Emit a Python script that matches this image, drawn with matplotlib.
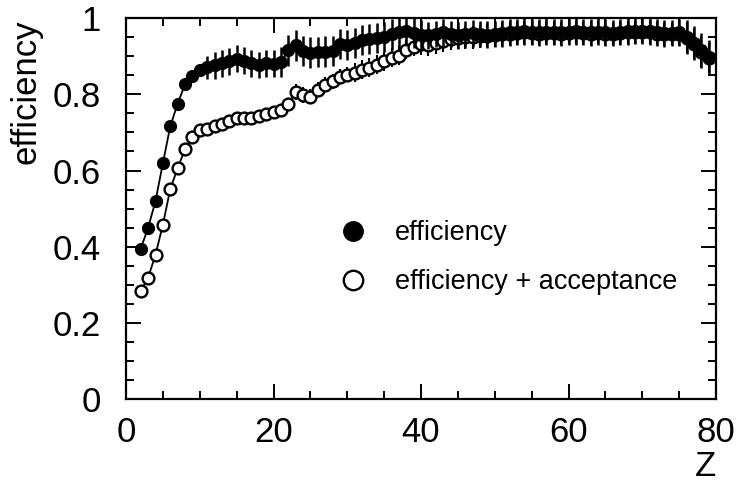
import matplotlib
matplotlib.use("Agg")
import matplotlib.pyplot as plt
from matplotlib.lines import Line2D
from matplotlib.ticker import MultipleLocator, FuncFormatter
import numpy as np

plt.rcParams['font.family'] = ['Liberation Sans', 'DejaVu Sans']

# ---- data ----
z = list(range(2, 80))

eff = [0.395, 0.450, 0.520, 0.619, 0.716, 0.775, 0.826, 0.849, 0.864, 0.871,
       0.876, 0.881, 0.886, 0.893, 0.888, 0.881, 0.877, 0.881, 0.880, 0.884,
       0.915, 0.928, 0.913, 0.909, 0.911, 0.912, 0.914, 0.932, 0.929, 0.934,
       0.942, 0.945, 0.948, 0.950, 0.957, 0.962, 0.966, 0.961, 0.956, 0.955,
       0.958, 0.962, 0.958, 0.955, 0.957, 0.960, 0.958, 0.956, 0.958, 0.960,
       0.962, 0.963, 0.965, 0.963, 0.962, 0.964, 0.963, 0.962, 0.964, 0.965,
       0.963, 0.962, 0.964, 0.962, 0.961, 0.963, 0.965, 0.966, 0.967, 0.965,
       0.962, 0.960, 0.961, 0.962, 0.950, 0.935, 0.915, 0.898]

eff_err = [0.010, 0.010, 0.010, 0.010, 0.010, 0.010, 0.015, 0.015, 0.015, 0.030,
           0.035, 0.035, 0.035, 0.035, 0.035, 0.035, 0.035, 0.035, 0.035, 0.040,
           0.040, 0.040, 0.040, 0.040, 0.040, 0.040, 0.040, 0.040, 0.040, 0.040,
           0.040, 0.040, 0.040, 0.040, 0.040, 0.040, 0.040, 0.040, 0.040, 0.035,
           0.035, 0.035, 0.035, 0.035, 0.035, 0.035, 0.035, 0.035, 0.035, 0.035,
           0.035, 0.035, 0.035, 0.035, 0.035, 0.035, 0.035, 0.035, 0.035, 0.035,
           0.035, 0.035, 0.035, 0.035, 0.035, 0.035, 0.035, 0.035, 0.035, 0.035,
           0.035, 0.035, 0.035, 0.035, 0.045, 0.045, 0.045, 0.045]

eff_acc = [0.284, 0.319, 0.379, 0.458, 0.551, 0.606, 0.656, 0.687, 0.705, 0.709,
           0.716, 0.723, 0.731, 0.738, 0.737, 0.738, 0.744, 0.749, 0.753, 0.760,
           0.775, 0.806, 0.798, 0.794, 0.812, 0.825, 0.834, 0.846, 0.851, 0.857,
           0.864, 0.870, 0.878, 0.887, 0.896, 0.901, 0.917, 0.925, 0.932, 0.930,
           0.935, 0.940, 0.945, 0.948, 0.950, 0.950, 0.952, 0.953, 0.955, 0.957,
           0.959, 0.960, 0.962, 0.960, 0.959, 0.961, 0.960, 0.959, 0.961, 0.962,
           0.960, 0.959, 0.961, 0.959, 0.958, 0.960, 0.962, 0.963, 0.964, 0.962,
           0.959, 0.957, 0.958, 0.959, 0.947, 0.932, 0.912, 0.895]

eff_acc_err = [0.010, 0.010, 0.010, 0.010, 0.010, 0.010, 0.010, 0.010, 0.010, 0.012,
               0.012, 0.012, 0.012, 0.012, 0.012, 0.012, 0.012, 0.012, 0.012, 0.015,
               0.015, 0.020, 0.020, 0.020, 0.020, 0.020, 0.020, 0.020, 0.020, 0.025,
               0.025, 0.025, 0.025, 0.025, 0.025, 0.025, 0.025, 0.025, 0.030, 0.030,
               0.030, 0.030, 0.030, 0.030, 0.030, 0.030, 0.030, 0.030, 0.030, 0.030,
               0.030, 0.030, 0.030, 0.030, 0.030, 0.030, 0.030, 0.030, 0.030, 0.030,
               0.030, 0.030, 0.030, 0.030, 0.030, 0.030, 0.030, 0.030, 0.030, 0.030,
               0.030, 0.030, 0.030, 0.030, 0.040, 0.040, 0.040, 0.040]

labels = ["efficiency", "efficiency + acceptance"]

# ---- figure ----
fig = plt.figure(figsize=(7.38, 4.87), dpi=100)
ax = fig.add_axes([126/738, (487-399.3)/487, 590/738, 381.3/487])

ax.errorbar(z, eff_acc, yerr=eff_acc_err, fmt='o', color='black',
            mfc='white', mec='black', mew=1.7, ms=8.5, elinewidth=1.5,
            capsize=0, zorder=3, linestyle='-', lw=1.3)
ax.errorbar(z, eff, yerr=eff_err, fmt='o', color='black',
            mfc='black', mec='black', ms=8.5, elinewidth=1.8,
            capsize=0, zorder=4, linestyle='-', lw=1.3)

ax.set_xlim(0, 80)
ax.set_ylim(0, 1)

ax.xaxis.set_major_locator(MultipleLocator(20))
ax.xaxis.set_minor_locator(MultipleLocator(5))
ax.yaxis.set_major_locator(MultipleLocator(0.2))
ax.yaxis.set_minor_locator(MultipleLocator(0.05))
ax.yaxis.set_major_formatter(FuncFormatter(lambda v, p: "%g" % round(v, 2)))

ax.tick_params(which='both', direction='in', top=True, right=True,
               width=1.4, colors='black')
ax.tick_params(which='major', length=11, labelsize=25)
ax.tick_params(axis='x', which='major', pad=12)
ax.tick_params(axis='y', which='major', pad=18)
ax.tick_params(which='minor', length=5.5)
for s in ax.spines.values():
    s.set_linewidth(1.6)

ax.set_xlabel('Z', fontsize=25, loc='right', labelpad=1)
ax.set_ylabel('efficiency', fontsize=25)
ax.yaxis.set_label_coords(-0.142, 0.807)

handles = [Line2D([], [], marker='o', linestyle='none', ms=14, mfc='black', mec='black'),
           Line2D([], [], marker='o', linestyle='none', ms=14, mfc='white', mec='black', mew=1.7)]
leg = ax.legend(handles, labels, loc='upper left', frameon=False,
                fontsize=19.5, handlelength=1.2, handletextpad=0.95,
                labelspacing=0.85, borderpad=0, borderaxespad=0,
                bbox_to_anchor=(336.8/738, 1-220/487),
                bbox_transform=fig.transFigure)

fig.savefig('out.png', dpi=100)
